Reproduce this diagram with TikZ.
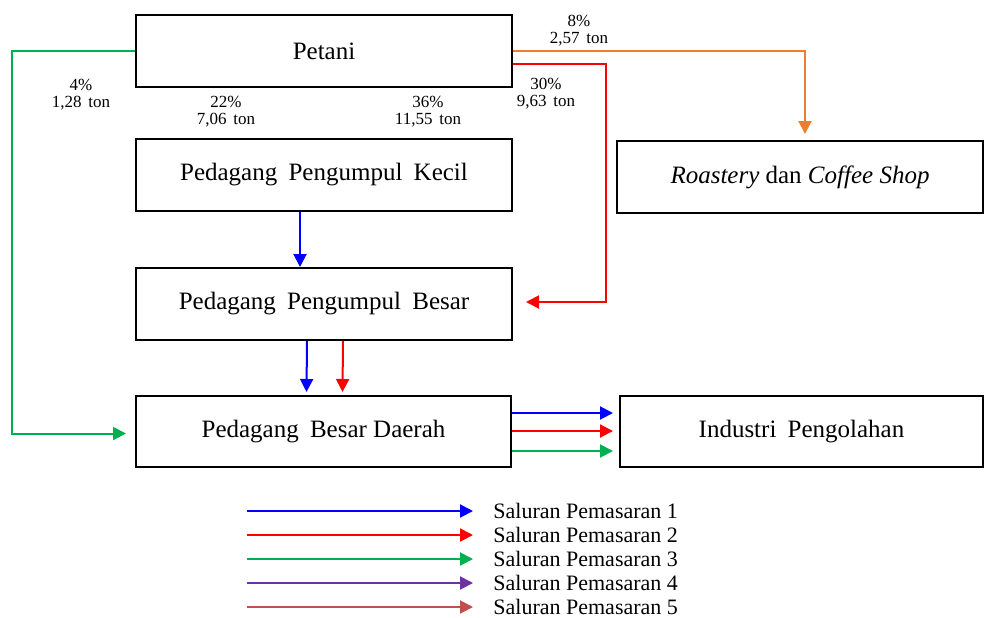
\documentclass[tikz,border=0pt]{standalone}
\usepackage{fontspec}
\setmainfont{Liberation Serif}
\usepackage{tikz}
\usetikzlibrary{arrows.meta,calc,positioning}

\definecolor{salblue}{RGB}{0,0,255}
\definecolor{salred}{RGB}{255,0,0}
\definecolor{salgreen}{RGB}{0,176,80}
\definecolor{salpurple}{RGB}{112,48,160}
\definecolor{salbrown}{RGB}{192,80,77}
\definecolor{salorange}{RGB}{237,125,49}

\tikzset{
  kotak/.style={draw,line width=1pt,minimum width=188pt,minimum height=36pt,inner sep=0pt,font=\fontsize{12.5}{14}\selectfont},
  alur/.style={line width=1pt,-{Triangle[length=6.5pt,width=6.5pt]}},
  persen/.style={align=center,inner sep=0pt,font=\fontsize{8.5}{8.5}\selectfont},
  legtext/.style={anchor=west,inner sep=0pt,font=\fontsize{11}{13}\selectfont}
}

\begin{document}
\begin{tikzpicture}[x=0.5pt,y=-0.5pt]
		\useasboundingbox (0,0) rectangle (984,617);
		% kotak
		\node[kotak] (pet) at (324,51) {Petani};
		\node[kotak] (ppk) at (324,175) {Pedagang\hspace{0.45em}Pengumpul\hspace{0.45em}Kecil};
		\node[kotak] (ppb) at (324,304) {Pedagang\hspace{0.45em}Pengumpul\hspace{0.45em}Besar};
		\node[kotak,minimum width=187.5pt,minimum height=35.5pt] (pbd) at (323.5,431.5) {Pedagang\hspace{0.45em}Besar Daerah};
		\node[kotak,minimum width=183pt] (ros) at (800,177) {\textit{Roastery} dan \textit{Coffee Shop}};
		\node[kotak,minimum width=181.5pt,minimum height=35.5pt] (ind) at (801.5,431.5) {Industri\hspace{0.45em}Pengolahan};
		% persentase
		\node[persen] (p4) at (81,95) {4\%\\1,28\hspace{0.4em}ton};
		\node[persen] (p22) at (226,112) {22\%\\7,06\hspace{0.4em}ton};
		\node[persen] (p36) at (428,112) {36\%\\11,55\hspace{0.4em}ton};
		\node[persen] (p8) at (579,31) {8\%\\2,57\hspace{0.4em}ton};
		\node[persen] (p30) at (546,94) {30\%\\9,63\hspace{0.4em}ton};
		% saluran
		\draw[alur,salgreen] (pet.west) -- (12,51) |- ([xshift=-4.5pt,yshift=-1pt]pbd.west);
		\draw[alur,salorange] (pet.east) -| ([xshift=2.5pt,yshift=3pt]ros.north);
		\draw[alur,salred] ([yshift=-6.5pt]pet.east) -| (606,302) -- ([xshift=6.5pt,yshift=1pt]ppb.east);
		\draw[alur,salblue] ([xshift=-12pt]ppk.south) -- ([xshift=-12pt]ppb.north);
		\draw[alur,salblue] ([xshift=-8.5pt]ppb.south) -- ([xshift=-8.5pt,yshift=1.5pt]pbd.north);
		\draw[alur,salred] ([xshift=9.5pt]ppb.south) -- ([xshift=9.5pt,yshift=1.5pt]pbd.north);
		\draw[alur,salblue] ([yshift=9.25pt]pbd.east) -- ([xshift=-3pt,yshift=9.25pt]ind.west);
		\draw[alur,salred] ([yshift=0.25pt]pbd.east) -- ([xshift=-3pt,yshift=0.25pt]ind.west);
		\draw[alur,salgreen] ([yshift=-9.75pt]pbd.east) -- ([xshift=-3pt,yshift=-9.75pt]ind.west);
		% keterangan
		\foreach \c [count=\i] in {salblue,salred,salgreen,salpurple,salbrown}{
			\node[legtext] (leg\i) at (493,{511+24*(\i-1)}) {Saluran Pemasaran \i};
			\coordinate (ls\i) at (247,{511+24*(\i-1)});
			\draw[alur,\c,shorten >=10pt] (ls\i) -- (leg\i.west);
		}
		\end{tikzpicture}
\end{document}
